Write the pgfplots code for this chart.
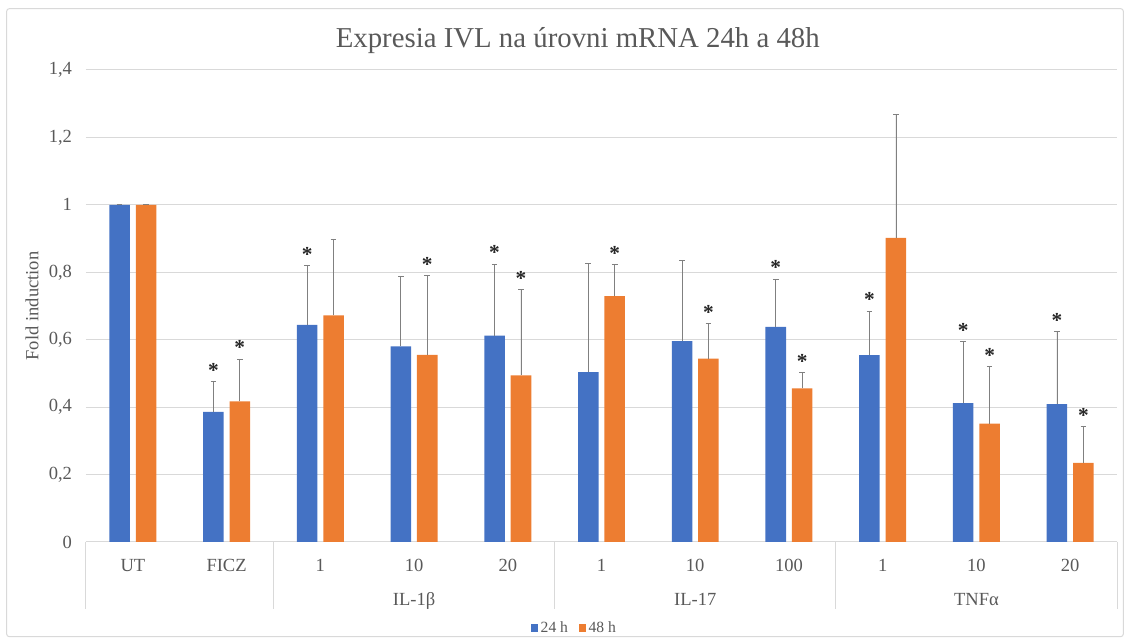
\documentclass[border=0pt]{standalone}
\usepackage{fontspec}
\setmainfont{Liberation Serif}
\usepackage{pgfplots}
\pgfplotsset{compat=1.18}
\usepackage{pgfplotstable}
\definecolor{b24}{HTML}{4472C4}
\definecolor{o48}{HTML}{ED7D31}
\definecolor{gridc}{HTML}{D9D9D9}
\definecolor{txt}{HTML}{595959}
\definecolor{errc}{HTML}{808080}

\pgfplotstableread{
x y24 e24 s24 y48 e48 s48
0 1.000 0.000 0 1.000 0.000 0
1 0.386 0.090 1 0.417 0.126 1
2 0.644 0.175 1 0.672 0.227 0
3 0.580 0.208 0 0.555 0.236 1
4 0.612 0.212 1 0.494 0.255 1
5 0.504 0.322 0 0.729 0.093 1
6 0.596 0.238 0 0.544 0.104 1
7 0.638 0.142 1 0.456 0.046 1
8 0.554 0.131 1 0.902 0.366 0
9 0.412 0.182 1 0.351 0.169 1
10 0.409 0.216 1 0.235 0.108 1
}\data

\begin{document}
\begin{tikzpicture}
\path[use as bounding box] (-64.5pt,-74.25pt) rectangle (782.25pt,406.5pt);
\draw[gridc, line width=0.75pt, rounded corners=2pt] (-59.5pt,-71pt) rectangle (778pt,400pt);
\begin{axis}[
  at={(0,0)}, anchor=south west,
  width=773.25pt, height=354pt, scale only axis,
  xmin=-0.5, xmax=10.5, ymin=0, ymax=1.4,
  axis x line*=bottom, axis y line*=left,
  x axis line style={gridc, line width=0.75pt, -},
  y axis line style={draw=none},
  ymajorgrids, grid style={gridc, line width=0.75pt},
  major tick length=0pt,
  xtick={0,...,10},
  xticklabels={UT,FICZ,1,10,20,1,10,100,1,10,20},
  ytick={0,0.2,0.4,0.6,0.8,1,1.2,1.4},
  yticklabels={0,{0,2},{0,4},{0,6},{0,8},1,{1,2},{1,4}},
  tick label style={font=\fontsize{13.9pt}{16pt}\selectfont, text=txt},
  xticklabel style={anchor=base, yshift=-22.3pt},
  yticklabel style={anchor=east, xshift=-7pt},
  ylabel={Fold induction},
  every axis y label/.style={at={(axis description cs:0,0.5)}, xshift=-40.5pt, rotate=90, anchor=center, font=\fontsize{13.9pt}{16pt}\selectfont, text=txt},
  title={Expresia IVL na úrovni mRNA 24h a 48h},
  every axis title/.style={at={(axis description cs:0.477,1)}, yshift=22pt, anchor=center, font=\fontsize{21.6pt}{25pt}\selectfont, text=txt},
  legend style={draw=none, fill=none, at={(0.474,0)}, anchor=center, yshift=-64.5pt, legend columns=2, font=\fontsize{11.7pt}{14pt}\selectfont, text=txt, /tikz/every even column/.append style={column sep=6pt}},
  clip=false,
  errstyle/.style={error bars/.cd, y dir=plus, y explicit,
    error bar style={errc, line width=0.6pt},
    error mark=|,
    error mark options={errc, mark size=2.1pt, line width=0.6pt}},
  starstyle/.style={forget plot, ybar, bar width=0.219, bar shift=0, draw=none, fill=none,
    nodes near coords={\textbf{*}},
    every node near coord/.append style={font=\fontsize{16pt}{16pt}\selectfont, text=black!85, inner sep=0pt, yshift=3pt}},
]
\addplot[ybar, bar width=0.219, bar shift=0, fill=b24, draw=none,
  legend image code/.code={\fill[b24] (0pt,-2.75pt) rectangle (5.5pt,2.75pt);},
  errstyle]
  table[x expr=\thisrow{x}-0.141, y=y24, y error=e24]{\data};
\addlegendentry{24 h}
\addplot[ybar, bar width=0.219, bar shift=0, fill=o48, draw=none,
  legend image code/.code={\fill[o48] (0pt,-2.75pt) rectangle (5.5pt,2.75pt);},
  errstyle]
  table[x expr=\thisrow{x}+0.141, y=y48, y error=e48]{\data};
\addlegendentry{48 h}
% significance asterisks
\addplot[starstyle]
  table[x expr=\thisrow{x}-0.141, y expr={\thisrow{s24}>0 ? \thisrow{y24}+\thisrow{e24} : nan}]{\data};
\addplot[starstyle]
  table[x expr=\thisrow{x}+0.141, y expr={\thisrow{s48}>0 ? \thisrow{y48}+\thisrow{e48} : nan}]{\data};
% multi-level category axis
\pgfplotsinvokeforeach{-0.5,1.5,4.5,7.5,10.5}{
  \draw[gridc, line width=0.75pt] (axis cs:#1,0) -- ++(0pt,-50.25pt);
}
\node[anchor=base, font=\fontsize{13.9pt}{16pt}\selectfont, text=txt] at ([yshift=-48pt]axis cs:3,0) {IL-1β};
\node[anchor=base, font=\fontsize{13.9pt}{16pt}\selectfont, text=txt] at ([yshift=-48pt]axis cs:6,0) {IL-17};
\node[anchor=base, font=\fontsize{13.9pt}{16pt}\selectfont, text=txt] at ([yshift=-48pt]axis cs:9,0) {TNFα};
\end{axis}
\end{tikzpicture}
\end{document}
